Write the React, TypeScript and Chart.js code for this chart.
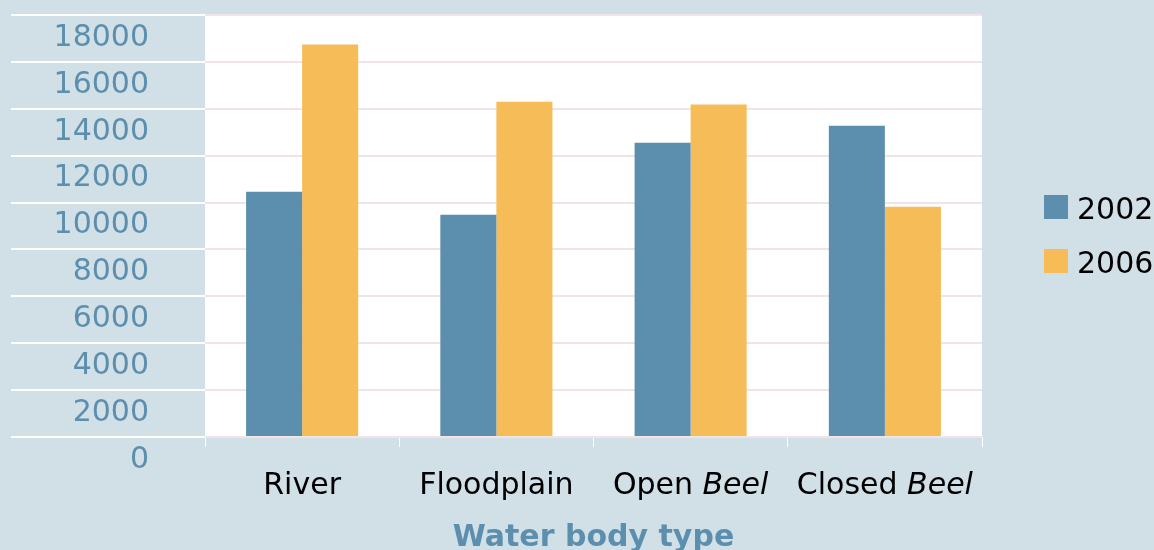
import React, { useEffect, useRef } from "react";
import { Chart, registerables } from "chart.js";

Chart.register(...registerables);

const categoryMain = ["River", "Floodplain", "Open", "Closed"];
const categoryItalic = ["", "", "Beel", "Beel"];
const seriesLabels = ["2002", "2006"];
const values2002 = [10460, 9480, 12550, 13280];
const values2006 = [16740, 14300, 14180, 9820];
const yMin = 0;
const yMax = 18000;
const yStep = 2000;
const xTitle = "Water body type";

const BG = "#d1dfe7";
const C2002 = "#5c8fad";
const C2006 = "#f5bc58";
const FONT = "'DejaVu Sans', Verdana, sans-serif";

const decorPlugin = {
  id: "decor",
  beforeDraw(chart: any) {
    const { ctx, chartArea } = chart;
    ctx.save();
    ctx.fillStyle = "#ffffff";
    ctx.fillRect(chartArea.left, chartArea.top, chartArea.right - chartArea.left, chartArea.bottom - chartArea.top);
    ctx.restore();
  },
  afterDraw(chart: any) {
    const { ctx } = chart;
    const xs = chart.scales.x;
    ctx.save();
    ctx.fillStyle = "#000000";
    ctx.textBaseline = "alphabetic";
    categoryMain.forEach((main, i) => {
      const it = categoryItalic[i];
      const cx = xs.getPixelForValue(i);
      const normalFont = `30px ${FONT}`;
      const italicFont = `italic 30px ${FONT}`;
      ctx.font = normalFont;
      const mainText = it ? main + " " : main;
      const w1 = ctx.measureText(mainText).width;
      ctx.font = italicFont;
      const w2 = it ? ctx.measureText(it).width : 0;
      const start = cx - (w1 + w2) / 2;
      ctx.textAlign = "left";
      ctx.font = normalFont;
      ctx.fillText(mainText, start, 494);
      if (it) {
        ctx.font = italicFont;
        ctx.fillText(it, start + w1, 494);
      }
    });
    chart.data.datasets.forEach((ds: any, i: number) => {
      const top = 195 + i * 54;
      ctx.fillStyle = ds.backgroundColor;
      ctx.fillRect(1044, top, 24, 24);
      ctx.fillStyle = "#000000";
      ctx.font = `30px ${FONT}`;
      ctx.textAlign = "left";
      ctx.fillText(ds.label, 1077, top + 24);
    });
    ctx.restore();
  },
};

export default function App() {
  const ref = useRef<HTMLCanvasElement | null>(null);
  useEffect(() => {
    document.body.style.margin = "0";
    const canvas = ref.current;
    if (!canvas) return;
    const chart = new Chart(canvas, {
      type: "bar",
      data: {
        labels: categoryMain.map((m, i) => (categoryItalic[i] ? m + " " + categoryItalic[i] : m)),
        datasets: [
          { label: seriesLabels[0], data: values2002, backgroundColor: C2002, categoryPercentage: 0.577, barPercentage: 1 },
          { label: seriesLabels[1], data: values2006, backgroundColor: C2006, categoryPercentage: 0.577, barPercentage: 1 },
        ],
      },
      options: {
        animation: false,
        responsive: true,
        maintainAspectRatio: false,
        layout: { padding: { top: 15, right: 172, bottom: 0, left: 0 } },
        plugins: { legend: { display: false }, tooltip: { enabled: false } },
        scales: {
          x: {
            offset: true,
            border: { display: false },
            grid: { offset: true, drawOnChartArea: false, drawTicks: true, tickLength: 10, tickColor: "#ffffff", lineWidth: 1 },
            ticks: { display: false },
            title: {
              display: true,
              text: xTitle,
              color: C2002,
              font: { family: FONT, size: 30, weight: "bold", lineHeight: 1 },
              padding: { top: 76, bottom: -3 },
            },
          },
          y: {
            min: yMin,
            max: yMax,
            border: { display: false },
            grid: { color: "#f1e4e4", lineWidth: 2, drawTicks: true, tickLength: 194, tickColor: "#ffffff", tickWidth: 2 },
            ticks: {
              stepSize: yStep,
              color: C2002,
              font: { family: FONT, size: 30 },
              padding: -138,
              labelOffset: 23,
              callback: (v: any) => String(v),
            },
            afterFit(scale: any) {
              scale.width = 205;
            },
          },
        },
      },
      plugins: [decorPlugin],
    } as any);
    return () => chart.destroy();
  }, []);
  return (
    <div style={{ width: 1154, height: 550, background: BG, position: "relative" }}>
      <canvas ref={ref} />
    </div>
  );
}
